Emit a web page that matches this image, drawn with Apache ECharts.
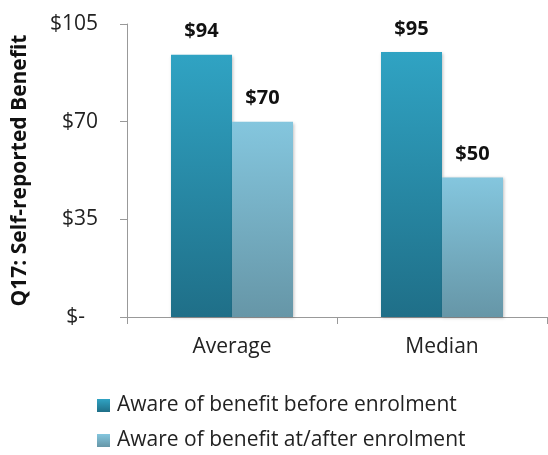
<!DOCTYPE html>
<html>
<head>
<meta charset="utf-8">
<script src="https://cdn.jsdelivr.net/npm/echarts@6/dist/echarts.min.js"></script>
<style>
  html, body { margin: 0; padding: 0; background: #fff; }
  #main { width: 548px; height: 455px; }
</style>
</head>
<body>
<div id="main"></div>
<script>
const categories = ['Average', 'Median']
const seriesNames = ['Aware of benefit before enrolment', 'Aware of benefit at/after enrolment']
const beforeValues = [94, 95]
const afterValues = [70, 50]
const yTicks = [0, 35, 70, 105]

const FONT = 'Open Sans'

// vertical gradient for each series
function grad(top, bottom) {
  return new echarts.graphic.LinearGradient(0, 0, 0, 1, [
    { offset: 0, color: top },
    { offset: 1, color: bottom }
  ])
}

const chart = echarts.init(document.getElementById('main'))

function barSeries(name, data, top, bottom) {
  return {
    name: name,
    type: 'bar',
    data: data,
    barWidth: 61,
    barGap: '0%',
    itemStyle: {
      color: grad(top, bottom),
      shadowColor: 'rgba(0,0,0,0.25)',
      shadowBlur: 3,
      shadowOffsetX: 1,
      shadowOffsetY: 1
    },
    label: {
      show: true,
      position: 'top',
      distance: 13,
      formatter: p => '$' + p.value,
      fontFamily: FONT,
      fontWeight: 'bold',
      fontSize: 20,
      color: '#111'
    }
  }
}

chart.setOption({
  animation: false,
  grid: { left: 127, right: 1, top: 24, bottom: 138 },
  legend: {
    orient: 'vertical',
    left: 97,
    top: 395,
    height: 120,
    padding: 0,
    itemWidth: 13,
    itemHeight: 13,
    itemGap: 14,
    icon: 'rect',
    textStyle: { fontFamily: FONT, fontSize: 21, color: '#222', padding: [0, 0, 0, 2] },
    data: seriesNames
  },
  xAxis: {
    type: 'category',
    data: categories,
    axisLine: { lineStyle: { color: '#999' } },
    axisTick: { show: true, length: 7, lineStyle: { color: '#999' } },
    axisLabel: { fontFamily: FONT, fontSize: 21, color: '#222', margin: 20 }
  },
  yAxis: {
    type: 'value',
    min: yTicks[0],
    max: yTicks[yTicks.length - 1],
    interval: 35,
    name: 'Q17: Self-reported Benefit',
    nameLocation: 'middle',
    nameRotate: 90,
    nameGap: 96,
    nameTextStyle: { fontFamily: FONT, fontWeight: 'bold', fontSize: 21, color: '#111' },
    axisLine: { show: true, lineStyle: { color: '#999' } },
    axisTick: { show: true, length: 7, lineStyle: { color: '#999' } },
    splitLine: { show: false },
    axisLabel: {
      fontFamily: FONT,
      fontSize: 21,
      color: '#222',
      margin: 29,
      formatter: v => v === 0 ? '{d|$-}' : '$' + v,
      rich: { d: { fontFamily: FONT, fontSize: 21, color: '#222', padding: [0, 13, 0, 0] } }
    }
  },
  series: [
    barSeries(seriesNames[0], beforeValues, '#30a3c3', '#1f6f88'),
    barSeries(seriesNames[1], afterValues, '#84c6de', '#6696a7')
  ]
})
</script>
</body>
</html>
